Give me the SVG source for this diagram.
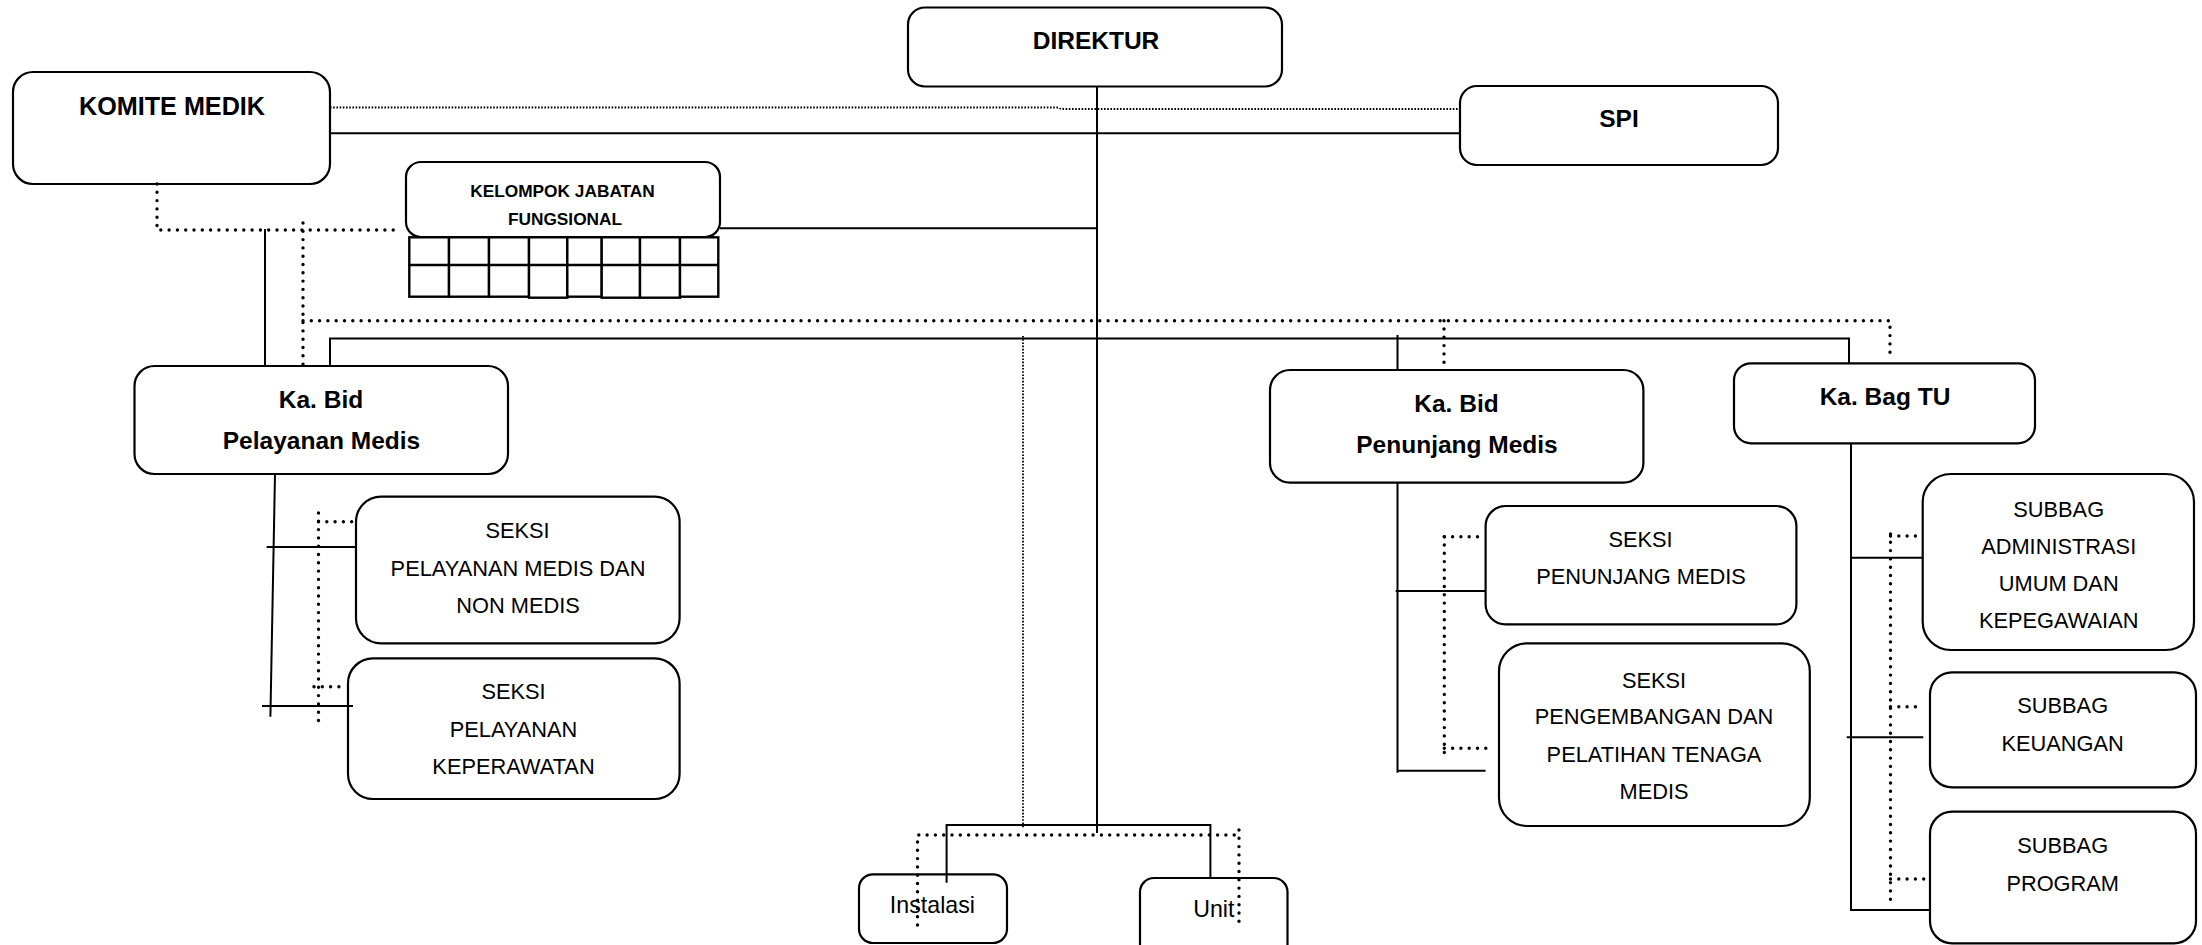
<svg xmlns="http://www.w3.org/2000/svg" width="2202" height="945" viewBox="0 0 2202 945">
<style>
.box{fill:#fff;stroke:#000;stroke-width:2.2}
.ln{fill:none;stroke:#000;stroke-width:2}
.dot{fill:none;stroke:#000;stroke-width:3.4;stroke-linecap:round;stroke-dasharray:0 8.3}
.fdot{fill:none;stroke:#000;stroke-width:1.8;stroke-dasharray:1.6 1.6}
.grid{fill:#fff;stroke:#000;stroke-width:2.4}
.b{font-family:"Liberation Sans",Arial,sans-serif;font-weight:bold;font-size:24.5px;text-anchor:middle;fill:#000}
.r{font-family:"Liberation Sans",Arial,sans-serif;font-size:21.8px;text-anchor:middle;fill:#000}
</style>
<rect width="2202" height="945" fill="#fff"/>
<g id="komite-medik">
<rect class="box" x="13" y="72" width="317" height="112" rx="20"/>
<text class="b" x="172" y="115" style="font-size:25.2px">KOMITE MEDIK</text>
</g>
<g id="direktur">
<rect class="box" x="908" y="7.5" width="374" height="79" rx="17"/>
<text class="b" x="1096" y="49.3">DIREKTUR</text>
</g>
<g id="spi">
<rect class="box" x="1460" y="86" width="318" height="79" rx="17"/>
<text class="b" x="1619" y="127">SPI</text>
</g>
<g id="kelompok-jabatan-fungsional">
<rect class="box" x="406" y="162" width="314" height="75" rx="15"/>
<text class="b" x="562.5" y="196.7" style="font-size:17.3px">KELOMPOK JABATAN</text>
<text class="b" x="565" y="225" style="font-size:17.3px">FUNGSIONAL</text>
<g class="grid">
<rect x="409.3" y="237.3" width="39.7" height="59.4"/>
<rect x="449" y="237.3" width="40" height="59.4"/>
<rect x="489" y="237.3" width="40" height="59.4"/>
<rect x="529" y="237.3" width="38.3" height="60.4"/>
<rect x="567.3" y="237.3" width="34.4" height="59.4"/>
<rect x="601.7" y="237.3" width="38.3" height="60.4"/>
<rect x="640" y="237.3" width="40" height="60.4"/>
<rect x="680" y="237.3" width="38.3" height="59.4"/>
<path d="M408 265 H718.3"/>
</g>
</g>
<g id="kabid-pelayanan-medis">
<rect class="box" x="134.5" y="366" width="373.5" height="108" rx="20"/>
<text class="b" x="321" y="407.5">Ka. Bid</text>
<text class="b" x="321.5" y="448.5">Pelayanan Medis</text>
</g>
<g id="seksi-pelayanan-medis">
<rect class="box" x="356" y="496.7" width="323.6" height="146.6" rx="25"/>
<text class="r" x="517.5" y="538.3">SEKSI</text>
<text class="r" x="518" y="575.8">PELAYANAN MEDIS DAN</text>
<text class="r" x="518" y="613.3">NON MEDIS</text>
</g>
<g id="seksi-pelayanan-keperawatan">
<rect class="box" x="348" y="658.3" width="331.6" height="140.7" rx="25"/>
<text class="r" x="513.5" y="699.3">SEKSI</text>
<text class="r" x="513.5" y="736.7">PELAYANAN</text>
<text class="r" x="513.5" y="774">KEPERAWATAN</text>
</g>
<g id="kabid-penunjang-medis">
<rect class="box" x="1270" y="370" width="373.4" height="112.7" rx="20"/>
<text class="b" x="1456.5" y="412.3">Ka. Bid</text>
<text class="b" x="1457" y="453">Penunjang Medis</text>
</g>
<g id="seksi-penunjang-medis">
<rect class="box" x="1485.6" y="506" width="310.8" height="118.3" rx="20"/>
<text class="r" x="1640.5" y="546.7">SEKSI</text>
<text class="r" x="1641" y="584.3">PENUNJANG MEDIS</text>
</g>
<g id="seksi-pengembangan">
<rect class="box" x="1499" y="643.3" width="310.8" height="182.7" rx="28"/>
<text class="r" x="1654" y="687.7">SEKSI</text>
<text class="r" x="1654" y="724.3">PENGEMBANGAN DAN</text>
<text class="r" x="1654" y="761.7">PELATIHAN TENAGA</text>
<text class="r" x="1654" y="799">MEDIS</text>
</g>
<g id="kabag-tu">
<rect class="box" x="1734" y="363.3" width="301" height="80" rx="17"/>
<text class="b" x="1885" y="405">Ka. Bag TU</text>
</g>
<g id="subbag-administrasi">
<rect class="box" x="1922.7" y="474" width="271.3" height="176" rx="28"/>
<text class="r" x="2058.7" y="517.3">SUBBAG</text>
<text class="r" x="2058.7" y="554.3">ADMINISTRASI</text>
<text class="r" x="2058.7" y="591">UMUM DAN</text>
<text class="r" x="2058.7" y="628.3">KEPEGAWAIAN</text>
</g>
<g id="subbag-keuangan">
<rect class="box" x="1930" y="672.3" width="266" height="115" rx="22"/>
<text class="r" x="2062.7" y="713.3">SUBBAG</text>
<text class="r" x="2062.7" y="751">KEUANGAN</text>
</g>
<g id="subbag-program">
<rect class="box" x="1930" y="811.7" width="266" height="131.6" rx="22"/>
<text class="r" x="2062.7" y="852.7">SUBBAG</text>
<text class="r" x="2062.7" y="890.7">PROGRAM</text>
</g>
<g id="instalasi">
<rect class="box" x="859" y="874.3" width="148" height="68.7" rx="14"/>
<text class="r" x="932.4" y="912.7" style="font-size:23.2px">Instalasi</text>
</g>
<g id="unit">
<rect class="box" x="1140" y="878" width="147.5" height="80" rx="14"/>
<text class="r" x="1213.8" y="917" style="font-size:23.2px">Unit</text>
</g>
<g id="connectors">
<path class="fdot" d="M330 107.5 H1058 L1061 109 H1460"/>
<path class="ln" d="M330 133.3 H1460"/>
<path class="ln" d="M1097 86.5 V833"/>
<path class="ln" d="M720 228.3 H1097"/>
<path class="dot" d="M157 184 V230 H400"/>
<path class="ln" d="M265 229 V366"/>
<path class="dot" d="M303 223 V366"/>
<path class="dot" d="M303 320.7 H1890 V353"/>
<path class="dot" d="M1444 320.7 V363"/>
<path class="ln" d="M330 366 V338.5 H1849 V363.3"/>
<path class="ln" d="M1397.5 335 V370"/>
<path class="fdot" d="M1023 336 V828"/>
<path class="ln" d="M275 474 L270.4 716.7"/>
<path class="ln" d="M266.6 547 H356"/>
<path class="ln" d="M262 706 H353"/>
<path class="dot" d="M318.5 513 V722"/>
<path class="dot" d="M318.5 521.7 H353"/>
<path class="dot" d="M314 686.7 H346"/>
<path class="ln" d="M1397.5 482.7 V772.7"/>
<path class="ln" d="M1395.7 591 H1485.6"/>
<path class="ln" d="M1397 770.7 H1485.6"/>
<path class="dot" d="M1444.3 536.7 V752.7"/>
<path class="dot" d="M1444.3 536.7 H1482"/>
<path class="dot" d="M1444.3 748.3 H1487"/>
<path class="ln" d="M1851 443.3 V910 H1930"/>
<path class="ln" d="M1851 557.7 H1922.7"/>
<path class="ln" d="M1846.7 737.3 H1923.3"/>
<path class="dot" d="M1890.5 534 V900"/>
<path class="dot" d="M1890.5 536 H1921"/>
<path class="dot" d="M1890.5 706.7 H1923"/>
<path class="dot" d="M1890.5 879 H1928"/>
<path class="ln" d="M946.6 882.7 V825 H1210.4 V878"/>
<path class="dot" d="M917.5 925 V835 H1240"/>
<path class="dot" d="M1239 830 V923"/>
</g>
</svg>
